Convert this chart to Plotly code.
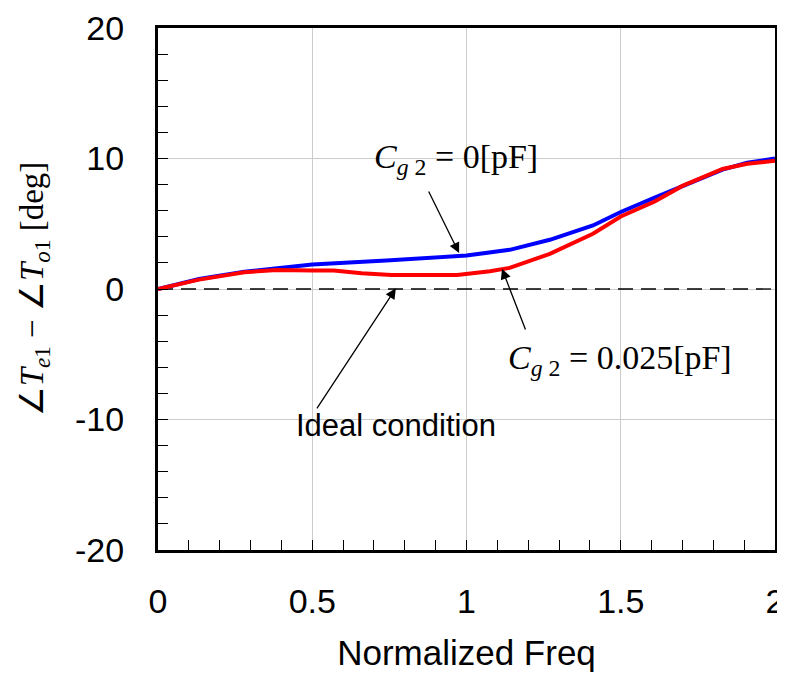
import plotly.graph_objects as go

# Data
freq_cg0 = [0, 0.133, 0.28, 0.5, 0.74, 1.0, 1.14, 1.27, 1.41, 1.5, 1.61, 1.71, 1.83, 1.91, 2.0]
phase_cg0 = [0, 0.77, 1.33, 1.87, 2.18, 2.56, 3.0, 3.77, 4.87, 5.9, 7.0, 7.95, 9.15, 9.67, 10.0]

freq_cg025 = [0, 0.133, 0.28, 0.385, 0.5, 0.57, 0.66, 0.757, 0.97, 1.076, 1.14, 1.27, 1.41, 1.5, 1.61, 1.70, 1.83, 1.91, 2.0]
phase_cg025 = [0, 0.72, 1.28, 1.46, 1.41, 1.41, 1.2, 1.08, 1.08, 1.36, 1.62, 2.69, 4.23, 5.56, 6.7, 7.9, 9.2, 9.6, 9.82]

freq_ideal = [0, 2]
phase_ideal = [0, 0]

x_ticks = [0, 0.5, 1, 1.5, 2]
x_tick_labels = ["0", "0.5", "1", "1.5", "2"]
y_ticks = [-20, -10, 0, 10, 20]
y_tick_labels = ["-20", "-10", "0", "10", "20"]

SANS = "Liberation Sans, Arial, sans-serif"
SERIF = "Liberation Serif, Times New Roman, serif"

fig = go.Figure()
fig.add_trace(go.Scatter(x=freq_ideal, y=phase_ideal, mode="lines",
                         line=dict(color="black", width=1.3, dash="15px,8px"),
                         hoverinfo="skip", showlegend=False))
fig.add_trace(go.Scatter(x=freq_cg0, y=phase_cg0, mode="lines",
                         line=dict(color="#0000ff", width=4), showlegend=False))
fig.add_trace(go.Scatter(x=freq_cg025, y=phase_cg025, mode="lines",
                         line=dict(color="#ff0000", width=4), showlegend=False))

arrow_style = dict(showarrow=True, arrowhead=2, arrowsize=1.6, arrowwidth=1.3,
                   arrowcolor="black", axref="x", ayref="y", text="")
# arrows
fig.add_annotation(x=0.976, y=2.75, ax=0.875, ay=7.59, **arrow_style)
fig.add_annotation(x=1.115, y=1.55, ax=1.193, ay=-3.22, **arrow_style)
fig.add_annotation(x=0.771, y=0.05, ax=0.512, ay=-9.27, **arrow_style)

# labels
fig.add_annotation(x=0.966, y=9.95, showarrow=False, xanchor="center", yanchor="middle",
                   text="<i>C</i><sub><i>g</i> 2</sub> = 0[pF]",
                   font=dict(family=SERIF, size=34, color="black"))
fig.add_annotation(x=1.498, y=-5.44, showarrow=False, xanchor="center", yanchor="middle",
                   text="<i>C</i><sub><i>g</i> 2</sub> = 0.025[pF]",
                   font=dict(family=SERIF, size=34, color="black"))
fig.add_annotation(x=0.771, y=-10.45, showarrow=False, xanchor="center", yanchor="middle",
                   text="Ideal condition",
                   font=dict(family=SANS, size=31, color="black"))

fig.update_xaxes(range=[0, 2], tickvals=x_ticks, ticktext=x_tick_labels,
                 automargin=False,
                 showline=True, linecolor="black", linewidth=3, mirror=True,
                 ticks="inside", ticklen=10, tickwidth=1, tickcolor="black",
                 minor=dict(dtick=0.1, ticks="inside", ticklen=10, tickwidth=1,
                            tickcolor="black", showgrid=False),
                 showgrid=True, gridcolor="#cccccc", gridwidth=1, zeroline=False,
                 tickfont=dict(family=SANS, size=34, color="black"),
                 ticklabelstandoff=19,
                 title=dict(text="Normalized Freq", standoff=22,
                            font=dict(family=SANS, size=35, color="black")))
fig.update_yaxes(range=[-20, 20], tickvals=y_ticks, ticktext=y_tick_labels,
                 automargin=False,
                 showline=True, linecolor="black", linewidth=3, mirror=True,
                 ticks="inside", ticklen=10, tickwidth=1, tickcolor="black",
                 minor=dict(dtick=2, ticks="inside", ticklen=10, tickwidth=1,
                            tickcolor="black", showgrid=False),
                 showgrid=True, gridcolor="#cccccc", gridwidth=1, zeroline=False,
                 tickfont=dict(family=SANS, size=34, color="black"),
                 ticklabelstandoff=24,
                 title=dict(text="∠<i>T</i><sub><i>e</i>1</sub> − ∠<i>T</i><sub><i>o</i>1</sub> [deg]",
                            standoff=22,
                            font=dict(family=SERIF, size=33, color="black")))

fig.update_layout(width=785, height=682,
                  margin=dict(l=150, r=18, t=20, b=140),
                  plot_bgcolor="white", paper_bgcolor="white",
                  showlegend=False)

fig.write_html("out.html")
